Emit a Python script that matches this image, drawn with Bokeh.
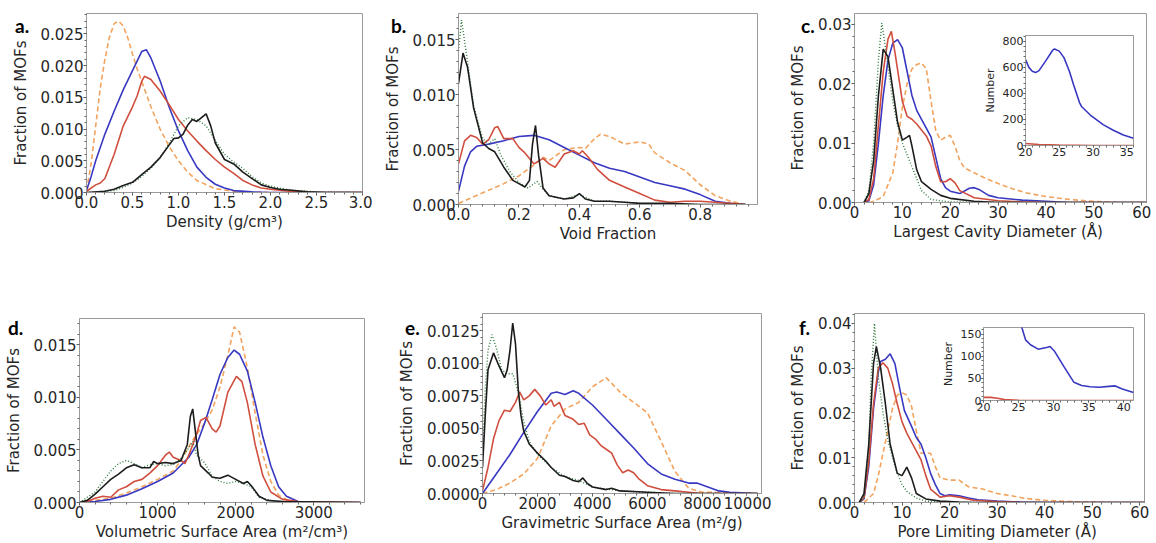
import numpy as np
from bokeh.plotting import figure
from bokeh.models import Range1d, FixedTicker, PrintfTickFormatter, GridBox, Div
from bokeh.embed import file_html
from bokeh.resources import INLINE

# ------------------------------------------------------------------ data
# (a) Density
DEN_OR_X = [0.0, 0.05, 0.1, 0.15, 0.2, 0.25, 0.3, 0.35, 0.4, 0.45, 0.5, 0.55, 0.6, 0.7, 0.8, 0.9, 1.0, 1.1, 1.2, 1.4, 1.6, 1.8, 2.0, 3.0]
DEN_OR_Y = [0.0003, 0.0045, 0.0105, 0.0165, 0.021, 0.0245, 0.0266, 0.027, 0.0262, 0.0243, 0.0218, 0.0195, 0.0175, 0.0135, 0.0100, 0.0072, 0.0050, 0.0032, 0.0019, 0.0006, 0.0002, 0.00005, 0.0, 0.0]
DEN_BL_X = [0.0, 0.05, 0.1, 0.2, 0.3, 0.4, 0.5, 0.6, 0.65, 0.7, 0.8, 0.9, 1.0, 1.1, 1.2, 1.3, 1.4, 1.5, 1.6, 1.8, 2.0, 3.0]
DEN_BL_Y = [0.0003, 0.0025, 0.005, 0.0092, 0.0128, 0.0162, 0.0192, 0.0222, 0.0225, 0.0212, 0.0176, 0.0134, 0.0097, 0.0066, 0.0040, 0.0024, 0.0013, 0.0007, 0.0003, 0.0001, 0.0, 0.0]
DEN_RD_X = [0.0, 0.1, 0.15, 0.2, 0.3, 0.4, 0.5, 0.55, 0.6, 0.63, 0.7, 0.8, 0.9, 1.0, 1.1, 1.2, 1.3, 1.4, 1.5, 1.6, 1.7, 1.8, 1.9, 2.0, 2.2, 2.5, 3.0]
DEN_RD_Y = [0.0002, 0.0012, 0.0015, 0.0022, 0.006, 0.0105, 0.0135, 0.0152, 0.0175, 0.0183, 0.0178, 0.016, 0.0138, 0.0115, 0.0097, 0.0081, 0.0066, 0.0052, 0.004, 0.003, 0.0019, 0.0012, 0.0007, 0.0005, 0.0002, 0.0, 0.0]
DEN_BK_X = [0.0, 0.2, 0.3, 0.4, 0.5, 0.6, 0.7, 0.8, 0.9, 0.95, 1.0, 1.05, 1.1, 1.15, 1.2, 1.25, 1.3, 1.35, 1.4, 1.5, 1.6, 1.7, 1.8, 1.9, 2.0, 2.1, 2.2, 2.4, 2.6, 3.0]
DEN_BK_Y = [0.0, 0.0002, 0.0005, 0.0011, 0.0016, 0.0028, 0.004, 0.0055, 0.0075, 0.0085, 0.0086, 0.0092, 0.0106, 0.0115, 0.0112, 0.0118, 0.0124, 0.0105, 0.0078, 0.0052, 0.0045, 0.0032, 0.0022, 0.0012, 0.0008, 0.0005, 0.0004, 0.0001, 0.0, 0.0]
DEN_GR_X = [0.0, 0.3, 0.4, 0.5, 0.6, 0.7, 0.8, 0.9, 1.0, 1.1, 1.2, 1.3, 1.4, 1.5, 1.6, 1.7, 1.8, 1.9, 2.0, 2.2, 2.5, 3.0]
DEN_GR_Y = [0.0, 0.0003, 0.0008, 0.0015, 0.0025, 0.0038, 0.0055, 0.0078, 0.0105, 0.0118, 0.0115, 0.0105, 0.0082, 0.006, 0.0048, 0.0038, 0.0025, 0.0015, 0.001, 0.0004, 0.0001, 0.0]

# (b) Void fraction
VF_OR_X = [0.0, 0.05, 0.1, 0.15, 0.2, 0.25, 0.28, 0.3, 0.35, 0.4, 0.42, 0.45, 0.47, 0.5, 0.55, 0.6, 0.63, 0.65, 0.7, 0.75, 0.8, 0.85, 0.9, 0.95]
VF_OR_Y = [0.0001, 0.0007, 0.0013, 0.0019, 0.0026, 0.0036, 0.0043, 0.0040, 0.0050, 0.0052, 0.0051, 0.0060, 0.0064, 0.0062, 0.0055, 0.0057, 0.0055, 0.0047, 0.0038, 0.0031, 0.0018, 0.0008, 0.0003, 0.0]
VF_BL_X = [0.0, 0.02, 0.04, 0.06, 0.1, 0.15, 0.2, 0.25, 0.3, 0.35, 0.4, 0.45, 0.5, 0.55, 0.6, 0.65, 0.7, 0.75, 0.8, 0.85, 0.9, 0.95]
VF_BL_Y = [0.0012, 0.0035, 0.0048, 0.0053, 0.0055, 0.0058, 0.0062, 0.0063, 0.0059, 0.0052, 0.0045, 0.0038, 0.0033, 0.0030, 0.0025, 0.0020, 0.0017, 0.0014, 0.0009, 0.0003, 0.0001, 0.0]
VF_RD_X = [0.0, 0.02, 0.04, 0.06, 0.08, 0.1, 0.12, 0.13, 0.15, 0.18, 0.2, 0.22, 0.25, 0.28, 0.3, 0.32, 0.35, 0.38, 0.4, 0.41, 0.43, 0.46, 0.5, 0.55, 0.6, 0.65, 0.7, 0.75, 0.8, 0.85, 0.9, 0.95]
VF_RD_Y = [0.0037, 0.0058, 0.0063, 0.0061, 0.0055, 0.0059, 0.0070, 0.0071, 0.0060, 0.0060, 0.0052, 0.0047, 0.0037, 0.0042, 0.0037, 0.0034, 0.0046, 0.0049, 0.0046, 0.0049, 0.0043, 0.0032, 0.0022, 0.0016, 0.0010, 0.0004, 0.0002, 0.0003, 0.0003, 0.0002, 0.0001, 0.0]
VF_BK_X = [0.0, 0.015, 0.03, 0.05, 0.08, 0.1, 0.12, 0.15, 0.18, 0.2, 0.22, 0.235, 0.245, 0.255, 0.265, 0.28, 0.3, 0.35, 0.38, 0.4, 0.42, 0.45, 0.5, 0.55, 0.6, 0.7, 0.8, 0.95]
VF_BK_Y = [0.0110, 0.0138, 0.0125, 0.0088, 0.0056, 0.0051, 0.0048, 0.0034, 0.0022, 0.0019, 0.0016, 0.0022, 0.0055, 0.0072, 0.0045, 0.0015, 0.0008, 0.0005, 0.0006, 0.0010, 0.0005, 0.0003, 0.0003, 0.0002, 0.0001, 0.0001, 0.0, 0.0]
VF_GR_X = [0.0, 0.01, 0.03, 0.05, 0.08, 0.1, 0.12, 0.14, 0.17, 0.2, 0.23, 0.26, 0.28, 0.3, 0.35, 0.4, 0.45, 0.5, 0.6, 0.8, 0.95]
VF_GR_Y = [0.0140, 0.0168, 0.0130, 0.0090, 0.0060, 0.0055, 0.0060, 0.0045, 0.0030, 0.0020, 0.0015, 0.0021, 0.0014, 0.0008, 0.0005, 0.0009, 0.0003, 0.0003, 0.0001, 0.0, 0.0]

# (c) Largest cavity diameter
LCD_OR_X = [3, 4, 6, 8, 9, 10, 11, 12, 13, 14, 15, 16, 17, 18, 19, 20, 21, 22, 23, 25, 27, 30, 33, 36, 40, 45, 50, 55, 61]
LCD_OR_Y = [0.0, 0.0002, 0.001, 0.005, 0.010, 0.016, 0.020, 0.0225, 0.0232, 0.0235, 0.0225, 0.017, 0.012, 0.0105, 0.011, 0.0113, 0.0095, 0.007, 0.0058, 0.005, 0.0042, 0.0032, 0.0023, 0.0016, 0.001, 0.0005, 0.0002, 0.0, 0.0]
LCD_BL_X = [2, 3, 4, 5, 6, 7, 8, 9, 10, 11, 12, 13, 14, 15, 16, 17, 18, 19, 20, 22, 24, 25, 26, 28, 30, 35, 40, 45, 61]
LCD_BL_Y = [0.0, 0.0003, 0.003, 0.010, 0.018, 0.024, 0.0268, 0.0274, 0.026, 0.022, 0.018, 0.0155, 0.014, 0.0125, 0.011, 0.0075, 0.004, 0.0025, 0.0019, 0.0015, 0.0024, 0.0025, 0.0022, 0.0012, 0.0008, 0.0004, 0.0002, 0.0, 0.0]
LCD_RD_X = [2, 3, 4, 5, 6, 7, 7.7, 8.5, 10, 11, 12, 13, 15, 16, 17, 18, 19, 20, 21, 22, 25, 30, 35, 40, 61]
LCD_RD_Y = [0.0, 0.0005, 0.004, 0.013, 0.022, 0.0275, 0.0288, 0.025, 0.017, 0.0145, 0.014, 0.0132, 0.0112, 0.0095, 0.006, 0.0035, 0.0035, 0.004, 0.0033, 0.002, 0.0008, 0.0003, 0.0001, 0.0, 0.0]
LCD_BK_X = [2, 3, 4, 5, 6, 7, 8, 9, 10, 11, 11.5, 12, 13, 14, 16, 18, 20, 25, 30, 61]
LCD_BK_Y = [0.0, 0.0015, 0.007, 0.018, 0.0258, 0.0245, 0.019, 0.0135, 0.0105, 0.011, 0.0113, 0.0095, 0.0055, 0.0035, 0.0022, 0.0012, 0.0007, 0.0002, 0.0, 0.0]
LCD_GR_X = [2, 3, 4, 5, 5.7, 6.5, 8, 9, 10, 11, 12, 14, 16, 20, 61]
LCD_GR_Y = [0.0, 0.002, 0.010, 0.024, 0.0302, 0.026, 0.017, 0.013, 0.010, 0.008, 0.006, 0.002, 0.0005, 0.0001, 0.0]
# inset of (c)
NUMC_BL_X = [20, 20.5, 21, 21.5, 22, 23, 24, 24.3, 25, 25.7, 26.5, 27.1, 28, 28.3, 29.6, 31.5, 33, 34.5, 36]
NUMC_BL_Y = [660, 600, 570, 560, 575, 650, 730, 742, 725, 675, 570, 470, 330, 300, 234, 160, 117, 80, 55]
NUMC_RD_X = [20, 22, 25, 30, 36]
NUMC_RD_Y = [15, 8, 3, 0, 0]

# (d) Volumetric surface area
VSA_OR_X = [0, 200, 400, 600, 800, 1000, 1200, 1300, 1400, 1500, 1600, 1700, 1800, 1900, 1980, 2050, 2150, 2250, 2350, 2450, 2550, 2700, 3000, 3600]
VSA_OR_Y = [0.0, 0.0002, 0.0004, 0.0009, 0.0015, 0.0022, 0.003, 0.004, 0.0053, 0.0065, 0.0075, 0.0088, 0.011, 0.014, 0.0167, 0.0162, 0.0128, 0.0085, 0.0045, 0.002, 0.0007, 0.0001, 0.0, 0.0]
VSA_BL_X = [0, 200, 400, 600, 800, 1000, 1200, 1400, 1500, 1600, 1700, 1800, 1900, 1980, 2050, 2150, 2250, 2350, 2450, 2550, 2650, 2800, 3000, 3600]
VSA_BL_Y = [0.0, 0.0001, 0.0003, 0.0007, 0.0013, 0.002, 0.0028, 0.0043, 0.0055, 0.0075, 0.0098, 0.0122, 0.0138, 0.0145, 0.0141, 0.0125, 0.0095, 0.0062, 0.0035, 0.0015, 0.0006, 0.0001, 0.0, 0.0]
VSA_RD_X = [0, 100, 200, 300, 400, 500, 600, 700, 800, 900, 1000, 1100, 1150, 1200, 1300, 1350, 1400, 1500, 1550, 1620, 1700, 1750, 1800, 1900, 2010, 2080, 2150, 2250, 2350, 2450, 2600, 2800, 3600]
VSA_RD_Y = [0.0, 0.0001, 0.0004, 0.0006, 0.0005, 0.0012, 0.0015, 0.002, 0.0022, 0.0028, 0.0035, 0.0045, 0.0048, 0.0043, 0.004, 0.0037, 0.0045, 0.0065, 0.0078, 0.0081, 0.007, 0.0067, 0.0073, 0.0105, 0.012, 0.0115, 0.0095, 0.0055, 0.0025, 0.001, 0.0003, 0.0001, 0.0]
VSA_BK_X = [0, 100, 200, 300, 400, 500, 600, 700, 800, 900, 950, 1000, 1100, 1200, 1300, 1380, 1420, 1450, 1480, 1520, 1550, 1650, 1700, 1800, 1900, 2000, 2100, 2150, 2200, 2300, 2400, 2600, 3600]
VSA_BK_Y = [0.0, 0.0002, 0.0008, 0.0015, 0.0022, 0.0027, 0.0033, 0.0036, 0.0033, 0.0033, 0.0039, 0.0037, 0.0038, 0.0037, 0.004, 0.0055, 0.0082, 0.0089, 0.007, 0.0045, 0.0035, 0.0028, 0.0024, 0.0023, 0.0026, 0.0022, 0.0018, 0.002, 0.0016, 0.0006, 0.0002, 0.0001, 0.0]
VSA_GR_X = [0, 200, 300, 400, 500, 600, 700, 800, 900, 1000, 1100, 1200, 1300, 1400, 1450, 1500, 1600, 1700, 1800, 1900, 2000, 2100, 2200, 2300, 2500, 3600]
VSA_GR_Y = [0.0, 0.001, 0.002, 0.003, 0.0037, 0.004, 0.0037, 0.0033, 0.0036, 0.0037, 0.0035, 0.0036, 0.0042, 0.0052, 0.0058, 0.0045, 0.0038, 0.0025, 0.002, 0.0018, 0.002, 0.0018, 0.0015, 0.0005, 0.0001, 0.0]

# (e) Gravimetric surface area
GSA_OR_X = [0, 500, 1000, 1500, 2000, 2500, 3000, 3500, 4000, 4500, 5000, 5500, 6000, 6500, 7000, 7500, 8000, 10000]
GSA_OR_Y = [0.0, 0.0003, 0.0008, 0.0015, 0.0027, 0.0052, 0.0065, 0.007, 0.0082, 0.0089, 0.0078, 0.007, 0.0062, 0.004, 0.0017, 0.0004, 0.0001, 0.0]
GSA_BL_X = [0, 500, 1000, 1500, 2000, 2500, 2700, 3000, 3300, 3500, 4000, 4500, 5000, 5500, 6000, 6500, 7000, 7500, 7800, 8200, 8600, 9000, 10000]
GSA_BL_Y = [0.0, 0.0015, 0.003, 0.0047, 0.0063, 0.0077, 0.0078, 0.0076, 0.0079, 0.0077, 0.0068, 0.0057, 0.0046, 0.0035, 0.0023, 0.0015, 0.0011, 0.0008, 0.0008, 0.0005, 0.0002, 0.0001, 0.0]
GSA_RD_X = [0, 200, 400, 600, 800, 1000, 1200, 1350, 1500, 1700, 1900, 2100, 2300, 2500, 2600, 2800, 3000, 3300, 3500, 3700, 3900, 4100, 4300, 4500, 4700, 4900, 5100, 5300, 5500, 5700, 6000, 6500, 7000, 7500, 8000, 10000]
GSA_RD_Y = [0.0002, 0.002, 0.0042, 0.0056, 0.0064, 0.0063, 0.007, 0.0078, 0.0072, 0.0075, 0.008, 0.0075, 0.0068, 0.0072, 0.0067, 0.007, 0.006, 0.0057, 0.0053, 0.0054, 0.0045, 0.0042, 0.0037, 0.0034, 0.0031, 0.0022, 0.0016, 0.0018, 0.0016, 0.0011, 0.0006, 0.0003, 0.0002, 0.0001, 0.0, 0.0]
GSA_BK_X = [0, 100, 200, 400, 600, 800, 900, 1000, 1100, 1200, 1300, 1400, 1500, 1700, 2000, 2300, 2500, 2800, 3000, 3300, 3500, 3650, 3800, 4000, 4500, 4700, 5000, 6000, 7000, 10000]
GSA_BK_Y = [0.002, 0.006, 0.0095, 0.0108, 0.0098, 0.0089, 0.0095, 0.011, 0.0131, 0.0115, 0.008, 0.006, 0.0048, 0.0038, 0.0031, 0.0025, 0.002, 0.0014, 0.0013, 0.001, 0.0009, 0.0012, 0.0008, 0.0005, 0.0003, 0.0004, 0.0002, 0.0001, 0.0, 0.0]
GSA_GR_X = [0, 100, 200, 350, 500, 700, 900, 1100, 1300, 1500, 1700, 2000, 2500, 3000, 3500, 4000, 5000, 6000, 7000, 10000]
GSA_GR_Y = [0.003, 0.008, 0.011, 0.0122, 0.0112, 0.0095, 0.0092, 0.0092, 0.0078, 0.0055, 0.004, 0.003, 0.002, 0.0013, 0.001, 0.0005, 0.0002, 0.0001, 0.0, 0.0]

# (f) Pore limiting diameter
PLD_OR_X = [2, 4, 5, 6, 7, 8, 9, 10, 11, 12, 13, 14, 15, 16, 17, 18, 20, 22, 24, 27, 30, 33, 36, 40, 45, 50, 55, 61]
PLD_OR_Y = [0.0, 0.002, 0.006, 0.011, 0.016, 0.021, 0.024, 0.0245, 0.024, 0.0215, 0.016, 0.011, 0.011, 0.011, 0.008, 0.0055, 0.005, 0.005, 0.0035, 0.003, 0.002, 0.0015, 0.0009, 0.0005, 0.0002, 0.0001, 0.0, 0.0]
PLD_BL_X = [1, 2, 3, 4, 5, 5.5, 6.5, 7.5, 8.5, 9.5, 10.5, 12, 13, 14, 15, 16, 17, 18, 19, 20, 22, 24, 26, 30, 35, 40, 61]
PLD_BL_Y = [0.0, 0.0008, 0.008, 0.021, 0.029, 0.0315, 0.032, 0.0332, 0.031, 0.0255, 0.0205, 0.017, 0.0145, 0.013, 0.010, 0.0065, 0.004, 0.002, 0.0015, 0.0017, 0.0015, 0.001, 0.0006, 0.0003, 0.0001, 0.0, 0.0]
PLD_RD_X = [1, 2, 3, 4, 5, 6, 7, 8, 9, 10, 11, 12, 13, 14, 15, 16, 18, 20, 22, 25, 30, 35, 61]
PLD_RD_Y = [0.0, 0.001, 0.009, 0.022, 0.030, 0.0312, 0.030, 0.0265, 0.022, 0.018, 0.0155, 0.0135, 0.0115, 0.0095, 0.006, 0.003, 0.0012, 0.0015, 0.0012, 0.0005, 0.0002, 0.0, 0.0]
PLD_BK_X = [1, 2, 3, 4, 4.6, 5.5, 6.5, 7.5, 9, 10, 11, 12, 13, 15, 18, 22, 25, 61]
PLD_BK_Y = [0.0, 0.002, 0.013, 0.031, 0.0348, 0.030, 0.022, 0.013, 0.0065, 0.006, 0.0079, 0.0055, 0.002, 0.0008, 0.0003, 0.0001, 0.0, 0.0]
PLD_GR_X = [1, 2, 3, 3.5, 4.2, 5, 6, 7, 8, 9, 10, 11, 13, 15, 20, 61]
PLD_GR_Y = [0.0, 0.001, 0.012, 0.028, 0.040, 0.028, 0.020, 0.014, 0.010, 0.0065, 0.004, 0.0025, 0.001, 0.0003, 0.0, 0.0]
# inset of (f)
NUMF_BL_X = [25.0, 26, 26.7, 27.8, 29, 29.5, 30.1, 31.5, 32.9, 34, 35.2, 36.5, 37.9, 38.8, 39.8, 41.4]
NUMF_BL_Y = [190, 137, 126, 116, 120, 122, 112, 76, 41, 34, 31, 30, 32, 33, 26, 18]
NUMF_RD_X = [20, 21, 22, 23, 25, 30, 41.4]
NUMF_RD_Y = [7, 7, 5, 2, 0.5, 0, 0]

# ticks
A_XT = [0.0, 0.5, 1.0, 1.5, 2.0, 2.5, 3.0]; A_YT = [0.0, 0.005, 0.010, 0.015, 0.020, 0.025]
B_XT = [0.0, 0.2, 0.4, 0.6, 0.8];           B_YT = [0.0, 0.005, 0.010, 0.015]
C_XT = [0, 10, 20, 30, 40, 50, 60];          C_YT = [0.0, 0.01, 0.02, 0.03]
D_XT = [0, 1000, 2000, 3000];                D_YT = [0.0, 0.005, 0.010, 0.015]
E_XT = [0, 2000, 4000, 6000, 8000, 10000];   E_YT = [0.0, 0.0025, 0.0050, 0.0075, 0.0100, 0.0125]
F_XT = [0, 10, 20, 30, 40, 50, 60];          F_YT = [0.0, 0.01, 0.02, 0.03, 0.04]
CI_XT = [20, 25, 30, 35];                    CI_YT = [0, 200, 400, 600, 800]
FI_XT = [20, 25, 30, 35, 40];                FI_YT = [0, 50, 100, 150]

PANEL_LETTERS = ["a.", "b.", "c.", "d.", "e.", "f."]

# ------------------------------------------------------------------ styles
FONT = "DejaVu Sans"
STY = {
    "or": dict(line_color="#f2a35e", line_width=1.6, line_dash="5 3"),
    "bl": dict(line_color="#3838c2", line_width=1.6),
    "rd": dict(line_color="#d04e3e", line_width=1.6),
    "gr": dict(line_color="#2f7a3c", line_width=1.4, line_dash="1 2"),
    "bk": dict(line_color="#1c1c1c", line_width=1.6),
}

# every figure shares one cell of the grid, so all use the same border sizes
BL, BR, BT, BB = 100, 10, 30, 41


def minors(ticks, n, lo, hi):
    step = (ticks[1] - ticks[0]) / n
    k0 = int(np.ceil((lo - ticks[0]) / step - 1e-9))
    k1 = int(np.floor((hi - ticks[0]) / step + 1e-9))
    return [ticks[0] + k * step for k in range(k0, k1 + 1)]


def panel(fl, ft, fw, fh, xr, yr, xt, xf, yt, yf, xlabel, ylabel, series,
          tick_px="15px", lab_px="15px", tick_out=3, xstand=2, ystand=8):
    # fl, ft: frame position on the page
    p = figure(frame_width=fw, frame_height=fh,
               min_border_left=BL, min_border_right=BR, min_border_top=BT, min_border_bottom=BB,
               x_range=Range1d(*xr), y_range=Range1d(*yr),
               output_backend="svg", toolbar_location=None, title=None,
               margin=(ft - BT, 0, 0, fl - BL))
    p.border_fill_color = None
    p.background_fill_color = "white"
    p.outline_line_color = "#9a9a9a"
    p.outline_line_width = 1
    p.xgrid.visible = False
    p.ygrid.visible = False
    for key, xs, ys in series:
        p.line(xs, ys, **STY[key])
    for ax, ticks, fmt, rng, lab, st in ((p.xaxis[0], xt, xf, xr, xlabel, xstand),
                                         (p.yaxis[0], yt, yf, yr, ylabel, ystand)):
        ax.ticker = FixedTicker(ticks=ticks, minor_ticks=minors(ticks, 5, rng[0], rng[1]))
        ax.formatter = PrintfTickFormatter(format=fmt)
        ax.axis_label = lab
        ax.axis_line_color = "#9a9a9a"
        ax.major_tick_line_color = "#555555"
        ax.minor_tick_line_color = "#666666"
        ax.major_tick_in = 0
        ax.major_tick_out = tick_out
        ax.minor_tick_in = 0
        ax.minor_tick_out = 2
        ax.major_label_standoff = 0
        ax.axis_label_standoff = st
        ax.major_label_text_font = FONT
        ax.major_label_text_font_size = tick_px
        ax.major_label_text_color = "#262626"
        ax.axis_label_text_font = FONT
        ax.axis_label_text_font_size = lab_px
        ax.axis_label_text_font_style = "normal"
        ax.axis_label_text_color = "#262626"
    return p


def letter(txt, left, top):
    return Div(text=txt, width=30, height=24, margin=(top, 0, 0, left),
               styles={"font-family": "Lato", "font-weight": "bold", "font-size": "19px",
                       "line-height": "19px", "color": "black"})


YL = "Fraction of MOFs"

pa = panel(86, 13, 276, 179, (0, 3.0), (0, 0.0282), A_XT, "%.1f", A_YT, "%.3f",
           "Density (g/cm³)", YL,
           [("or", DEN_OR_X, DEN_OR_Y), ("bl", DEN_BL_X, DEN_BL_Y), ("rd", DEN_RD_X, DEN_RD_Y),
            ("gr", DEN_GR_X, DEN_GR_Y), ("bk", DEN_BK_X, DEN_BK_Y)])
pb = panel(458, 13, 299, 191, (0, 0.99), (0, 0.0174), B_XT, "%.1f", B_YT, "%.3f",
           "Void Fraction", YL,
           [("or", VF_OR_X, VF_OR_Y), ("bl", VF_BL_X, VF_BL_Y), ("rd", VF_RD_X, VF_RD_Y),
            ("gr", VF_GR_X, VF_GR_Y), ("bk", VF_BK_X, VF_BK_Y)])
pc = panel(854, 13, 292, 189, (0, 61), (0, 0.0318), C_XT, "%d", C_YT, "%.2f",
           "Largest Cavity Diameter  (Å)", YL,
           [("or", LCD_OR_X, LCD_OR_Y), ("bl", LCD_BL_X, LCD_BL_Y), ("rd", LCD_RD_X, LCD_RD_Y),
            ("gr", LCD_GR_X, LCD_GR_Y), ("bk", LCD_BK_X, LCD_BK_Y)])
pd_ = panel(79, 318, 285, 184, (0, 3650), (0, 0.0175), D_XT, "%d", D_YT, "%.3f",
            "Volumetric Surface Area (m²/cm³)", YL,
            [("or", VSA_OR_X, VSA_OR_Y), ("bl", VSA_BL_X, VSA_BL_Y), ("rd", VSA_RD_X, VSA_RD_Y),
             ("gr", VSA_GR_X, VSA_GR_Y), ("bk", VSA_BK_X, VSA_BK_Y)])
pe = panel(482, 313, 279, 180, (0, 10150), (0, 0.01383), E_XT, "%d", E_YT, "%.4f",
           "Gravimetric Surface Area (m²/g)", YL,
           [("or", GSA_OR_X, GSA_OR_Y), ("bl", GSA_BL_X, GSA_BL_Y), ("rd", GSA_RD_X, GSA_RD_Y),
            ("gr", GSA_GR_X, GSA_GR_Y), ("bk", GSA_BK_X, GSA_BK_Y)])
pf = panel(854, 313, 290, 189, (0, 61), (0, 0.0422), F_XT, "%d", F_YT, "%.2f",
           "Pore Limiting Diameter  (Å)", YL,
           [("or", PLD_OR_X, PLD_OR_Y), ("bl", PLD_BL_X, PLD_BL_Y), ("rd", PLD_RD_X, PLD_RD_Y),
            ("gr", PLD_GR_X, PLD_GR_Y), ("bk", PLD_BK_X, PLD_BK_Y)])
pci = panel(1025, 35, 108, 110, (20, 36), (0, 845), CI_XT, "%d", CI_YT, "%d",
            "", "Number",
            [("rd", NUMC_RD_X, NUMC_RD_Y), ("bl", NUMC_BL_X, NUMC_BL_Y)],
            tick_px="11px", lab_px="11px", tick_out=2, xstand=0, ystand=3)
pfi = panel(983, 327, 150, 73, (20, 41.4), (0, 165), FI_XT, "%d", FI_YT, "%d",
            "", "Number",
            [("rd", NUMF_RD_X, NUMF_RD_Y), ("bl", NUMF_BL_X, NUMF_BL_Y)],
            tick_px="11px", lab_px="11px", tick_out=2, xstand=0, ystand=3)

letters = [letter(PANEL_LETTERS[0], 15, 16), letter(PANEL_LETTERS[1], 391, 16),
           letter(PANEL_LETTERS[2], 801, 16), letter(PANEL_LETTERS[3], 8, 318),
           letter(PANEL_LETTERS[4], 405, 318), letter(PANEL_LETTERS[5], 799, 318)]

items = [pa, pb, pc, pd_, pe, pf, pci, pfi] + letters
grid = GridBox(children=[(f, 0, 0) for f in items])

open("out.html", "w").write(file_html(grid, INLINE))
